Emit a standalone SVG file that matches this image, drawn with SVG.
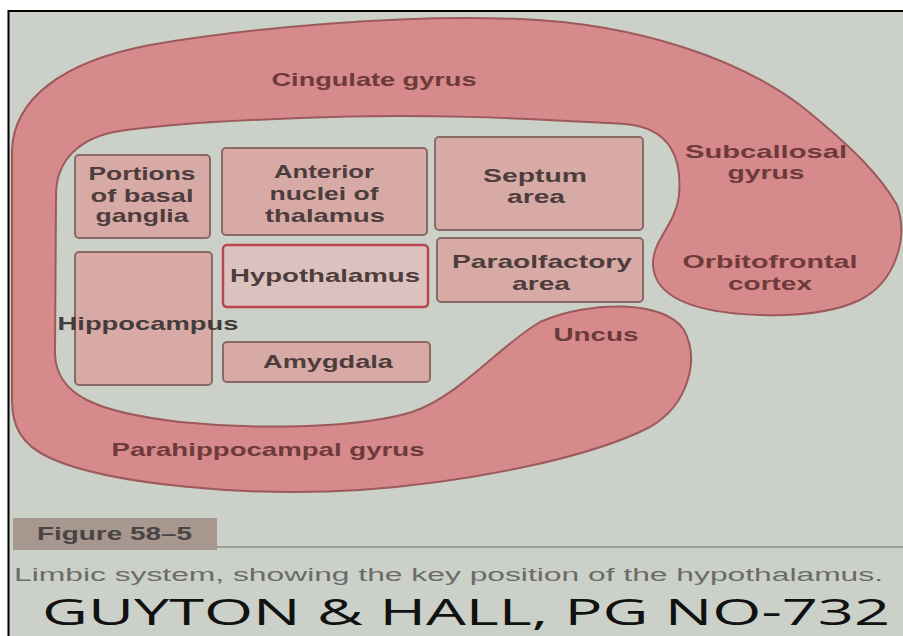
<svg xmlns="http://www.w3.org/2000/svg" width="903" height="636" viewBox="0 0 903 636">
<style>
.lbl{font-family:"Liberation Sans",Arial,sans-serif;font-size:19px;font-weight:bold;fill:#4d3d3c;text-anchor:middle}
.plbl{font-family:"Liberation Sans",Arial,sans-serif;font-size:19px;font-weight:bold;fill:#6e3a3a;text-anchor:middle}
.box{fill:#d8aaa6;stroke:#8a6a66;stroke-width:2}
</style>
<rect x="0" y="0" width="903" height="636" fill="#ffffff"/>
<rect x="9" y="11" width="894" height="625" fill="#cbd0c9"/>
<path d="M8.5,636 L8.5,11 L903,11" fill="none" stroke="#000" stroke-width="2"/>

<g id="limbic-lobe">
<path d="M12,400 L12,150 C14,100 60,62 150,45 C250,28 400,14 520,19 C640,24 740,60 800,105 C850,145 880,175 897,205 C908,235 898,280 860,300 C830,314 790,316 760,315 C700,313 655,300 653,265 C652,240 676,225 679,195 C682,160 672,128 625,124 C520,118 420,113 300,118 C220,121 160,125 120,131 C80,137 56,160 56,195 L55,355 C57,395 95,412 180,422 C260,430 360,428 412,412 C460,396 500,345 540,322 C590,300 665,300 684,330 C700,360 688,405 650,427 C590,458 470,482 360,490 C250,497 110,485 50,458 C20,444 12,425 12,400 Z" fill="#d68a8c" stroke="#9c5a5a" stroke-width="2"/>
<text class="plbl" x="374" y="86" textLength="205" lengthAdjust="spacingAndGlyphs">Cingulate gyrus</text>
<text class="plbl" x="766" y="158" textLength="162" lengthAdjust="spacingAndGlyphs">Subcallosal</text>
<text class="plbl" x="766" y="179" textLength="77" lengthAdjust="spacingAndGlyphs">gyrus</text>
<text class="plbl" x="770" y="268" textLength="175" lengthAdjust="spacingAndGlyphs">Orbitofrontal</text>
<text class="plbl" x="770" y="290" textLength="84" lengthAdjust="spacingAndGlyphs">cortex</text>
<text class="plbl" x="596" y="341" textLength="85" lengthAdjust="spacingAndGlyphs">Uncus</text>
<text class="plbl" x="268" y="456" textLength="313" lengthAdjust="spacingAndGlyphs">Parahippocampal gyrus</text>
</g>

<g id="basal-ganglia">
<rect class="box" x="75" y="155" width="135" height="83" rx="4"/>
<text class="lbl" x="142" y="180" textLength="107" lengthAdjust="spacingAndGlyphs">Portions</text>
<text class="lbl" x="142" y="202" textLength="103" lengthAdjust="spacingAndGlyphs">of basal</text>
<text class="lbl" x="142" y="222" textLength="93" lengthAdjust="spacingAndGlyphs">ganglia</text>
</g>

<g id="anterior-nuclei">
<rect class="box" x="222" y="148" width="205" height="87" rx="4"/>
<text class="lbl" x="324" y="178" textLength="100" lengthAdjust="spacingAndGlyphs">Anterior</text>
<text class="lbl" x="324" y="200" textLength="109" lengthAdjust="spacingAndGlyphs">nuclei of</text>
<text class="lbl" x="325" y="222" textLength="120" lengthAdjust="spacingAndGlyphs">thalamus</text>
</g>

<g id="septum">
<rect class="box" x="435" y="137" width="208" height="93" rx="4"/>
<text class="lbl" x="535" y="182" textLength="104" lengthAdjust="spacingAndGlyphs">Septum</text>
<text class="lbl" x="536" y="203" textLength="58" lengthAdjust="spacingAndGlyphs">area</text>
</g>

<g id="hippocampus">
<rect class="box" x="75" y="252" width="137" height="133" rx="4"/>
<text class="lbl" x="148" y="330" textLength="181" lengthAdjust="spacingAndGlyphs" style="fill:#433c3c">Hippocampus</text>
</g>

<g id="hypothalamus">
<rect x="223" y="245" width="205" height="62" rx="4" fill="#dcc2be" stroke="#b9444d" stroke-width="2.5"/>
<text class="lbl" x="325" y="282" textLength="190" lengthAdjust="spacingAndGlyphs">Hypothalamus</text>
</g>

<g id="paraolfactory">
<rect class="box" x="437" y="238" width="206" height="64" rx="4"/>
<text class="lbl" x="542" y="268" textLength="180" lengthAdjust="spacingAndGlyphs">Paraolfactory</text>
<text class="lbl" x="541" y="290" textLength="58" lengthAdjust="spacingAndGlyphs">area</text>
</g>

<g id="amygdala">
<rect class="box" x="223" y="342" width="207" height="40" rx="4"/>
<text class="lbl" x="328" y="368" textLength="130" lengthAdjust="spacingAndGlyphs">Amygdala</text>
</g>

<g id="connectors"></g>

<g id="caption">
<rect x="13" y="518" width="204" height="32" fill="#a8978f"/>
<line x1="217" y1="547" x2="903" y2="547" stroke="#8e8e8a" stroke-width="1.5"/>
<text x="37" y="540" font-family="Liberation Sans, Arial, sans-serif" font-size="19" font-weight="bold" fill="#4a4545" textLength="155" lengthAdjust="spacingAndGlyphs">Figure 58–5</text>
<text x="14" y="581" font-family="Liberation Sans, Arial, sans-serif" font-size="18" fill="#6b6b6b" textLength="869" lengthAdjust="spacingAndGlyphs">Limbic system, showing the key position of the hypothalamus.</text>
<text x="42" y="624.5" font-family="Open Sans, Liberation Sans, sans-serif" font-size="36" fill="#111111" textLength="848" lengthAdjust="spacingAndGlyphs">GUYTON &amp; HALL, PG NO-732</text>
</g>
</svg>
